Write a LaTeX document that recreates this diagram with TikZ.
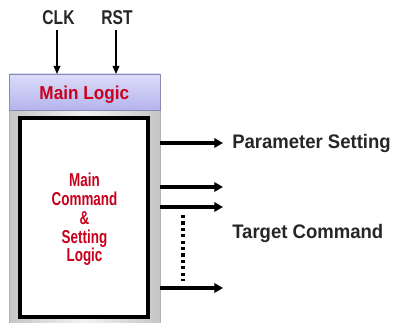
\documentclass[tikz,border=0pt]{standalone}
\usepackage{fontspec}
\setmainfont{Liberation Sans}
\newfontfamily\lblfont[FakeStretch=0.945]{Liberation Sans Bold}
\newfontfamily\hdrfont[FakeStretch=0.92]{Liberation Sans Bold}
\newfontfamily\sigfont[FakeStretch=0.78]{Liberation Sans Bold}
\newfontfamily\corefont[FakeStretch=0.72]{Liberation Sans Bold}
\usetikzlibrary{arrows.meta}
\definecolor{hdrred}{HTML}{C8001E}
\definecolor{hdrtop}{HTML}{DCDCFA}
\definecolor{hdrbot}{HTML}{B4B4EC}
\definecolor{hdredge}{HTML}{8A8AB0}
\tikzset{
  lbl/.style={font=\lblfont\fontsize{14.7}{16}\selectfont, inner sep=0pt, anchor=base west, text=black!85},
  inlbl/.style={font=\corefont\fontsize{14}{14.1}\selectfont, text=hdrred, align=center, inner sep=0pt},
  sig/.style={font=\sigfont\fontsize{15}{15}\selectfont, inner sep=0pt, anchor=base, text=black!85},
  inarrow/.style={line width=0.9pt, -{Triangle[length=6pt,width=5pt]}},
  outarrow/.style={line width=2.7pt, -{Triangle[length=6.5pt,width=7pt]}},
}
\begin{document}
\begin{tikzpicture}[x=0.75pt,y=-0.75pt]
\useasboundingbox (0,0) rectangle (393,323);
% body frame
\shade[left color=gray!45, right color=gray!45, middle color=gray!10] (9,110) rectangle (160,330);
\draw[gray!60, line width=0.6pt] (9,110) -- (9,330) (160,110) -- (160,330);
\node[draw=black, line width=2.6pt, fill=white, minimum width=128*0.75pt, minimum height=199*0.75pt, inner sep=0pt] (inner) at (84,217.5) {};
\node[inlbl] (core) at (84.5,219.5) {Main\\Command\\\&\\Setting\\Logic};
% header
\node[draw=hdredge, line width=0.6pt, top color=hdrtop, bottom color=hdrbot, minimum width=151*0.75pt, minimum height=36*0.75pt, inner sep=0pt] (hdr) at (84.5,92) {};
\node[font=\hdrfont\fontsize{14}{16}\selectfont, text=hdrred, inner sep=0pt, anchor=base] (hdrtxt) at (84.3,100) {Main Logic};
% inputs
\node[sig] (clk) at (58.5,25) {CLK};
\node[sig] (rst) at (117,25) {RST};
\coordinate (clkin) at (57,74);
\coordinate (rstin) at (116,74);
\draw[inarrow] (clkin |- clk.south) ++(0,5) -- (clkin);
\draw[inarrow] (rstin |- rst.south) ++(0,5) -- (rstin);
% outputs
\node[lbl] (param) at (232,148.3) {Parameter Setting};
\node[lbl] (target) at (232,238.3) {Target Command};
\coordinate (o1) at (223,143);
\coordinate (o2) at (223,187);
\coordinate (o3) at (223,207);
\coordinate (o4) at (223,288);
\draw[outarrow] (hdr.east |- o1) -- (o1);
\draw[outarrow] (hdr.east |- o2) -- (o2);
\draw[outarrow] (hdr.east |- o3) -- (o3);
\draw[outarrow] (hdr.east |- o4) -- (o4);
\coordinate (d1) at (183,215);
\coordinate (d2) at (183,281);
\draw[line width=2.4pt, dash pattern=on 2.4pt off 2.4pt] (d1) -- (d2);
\end{tikzpicture}
\end{document}
